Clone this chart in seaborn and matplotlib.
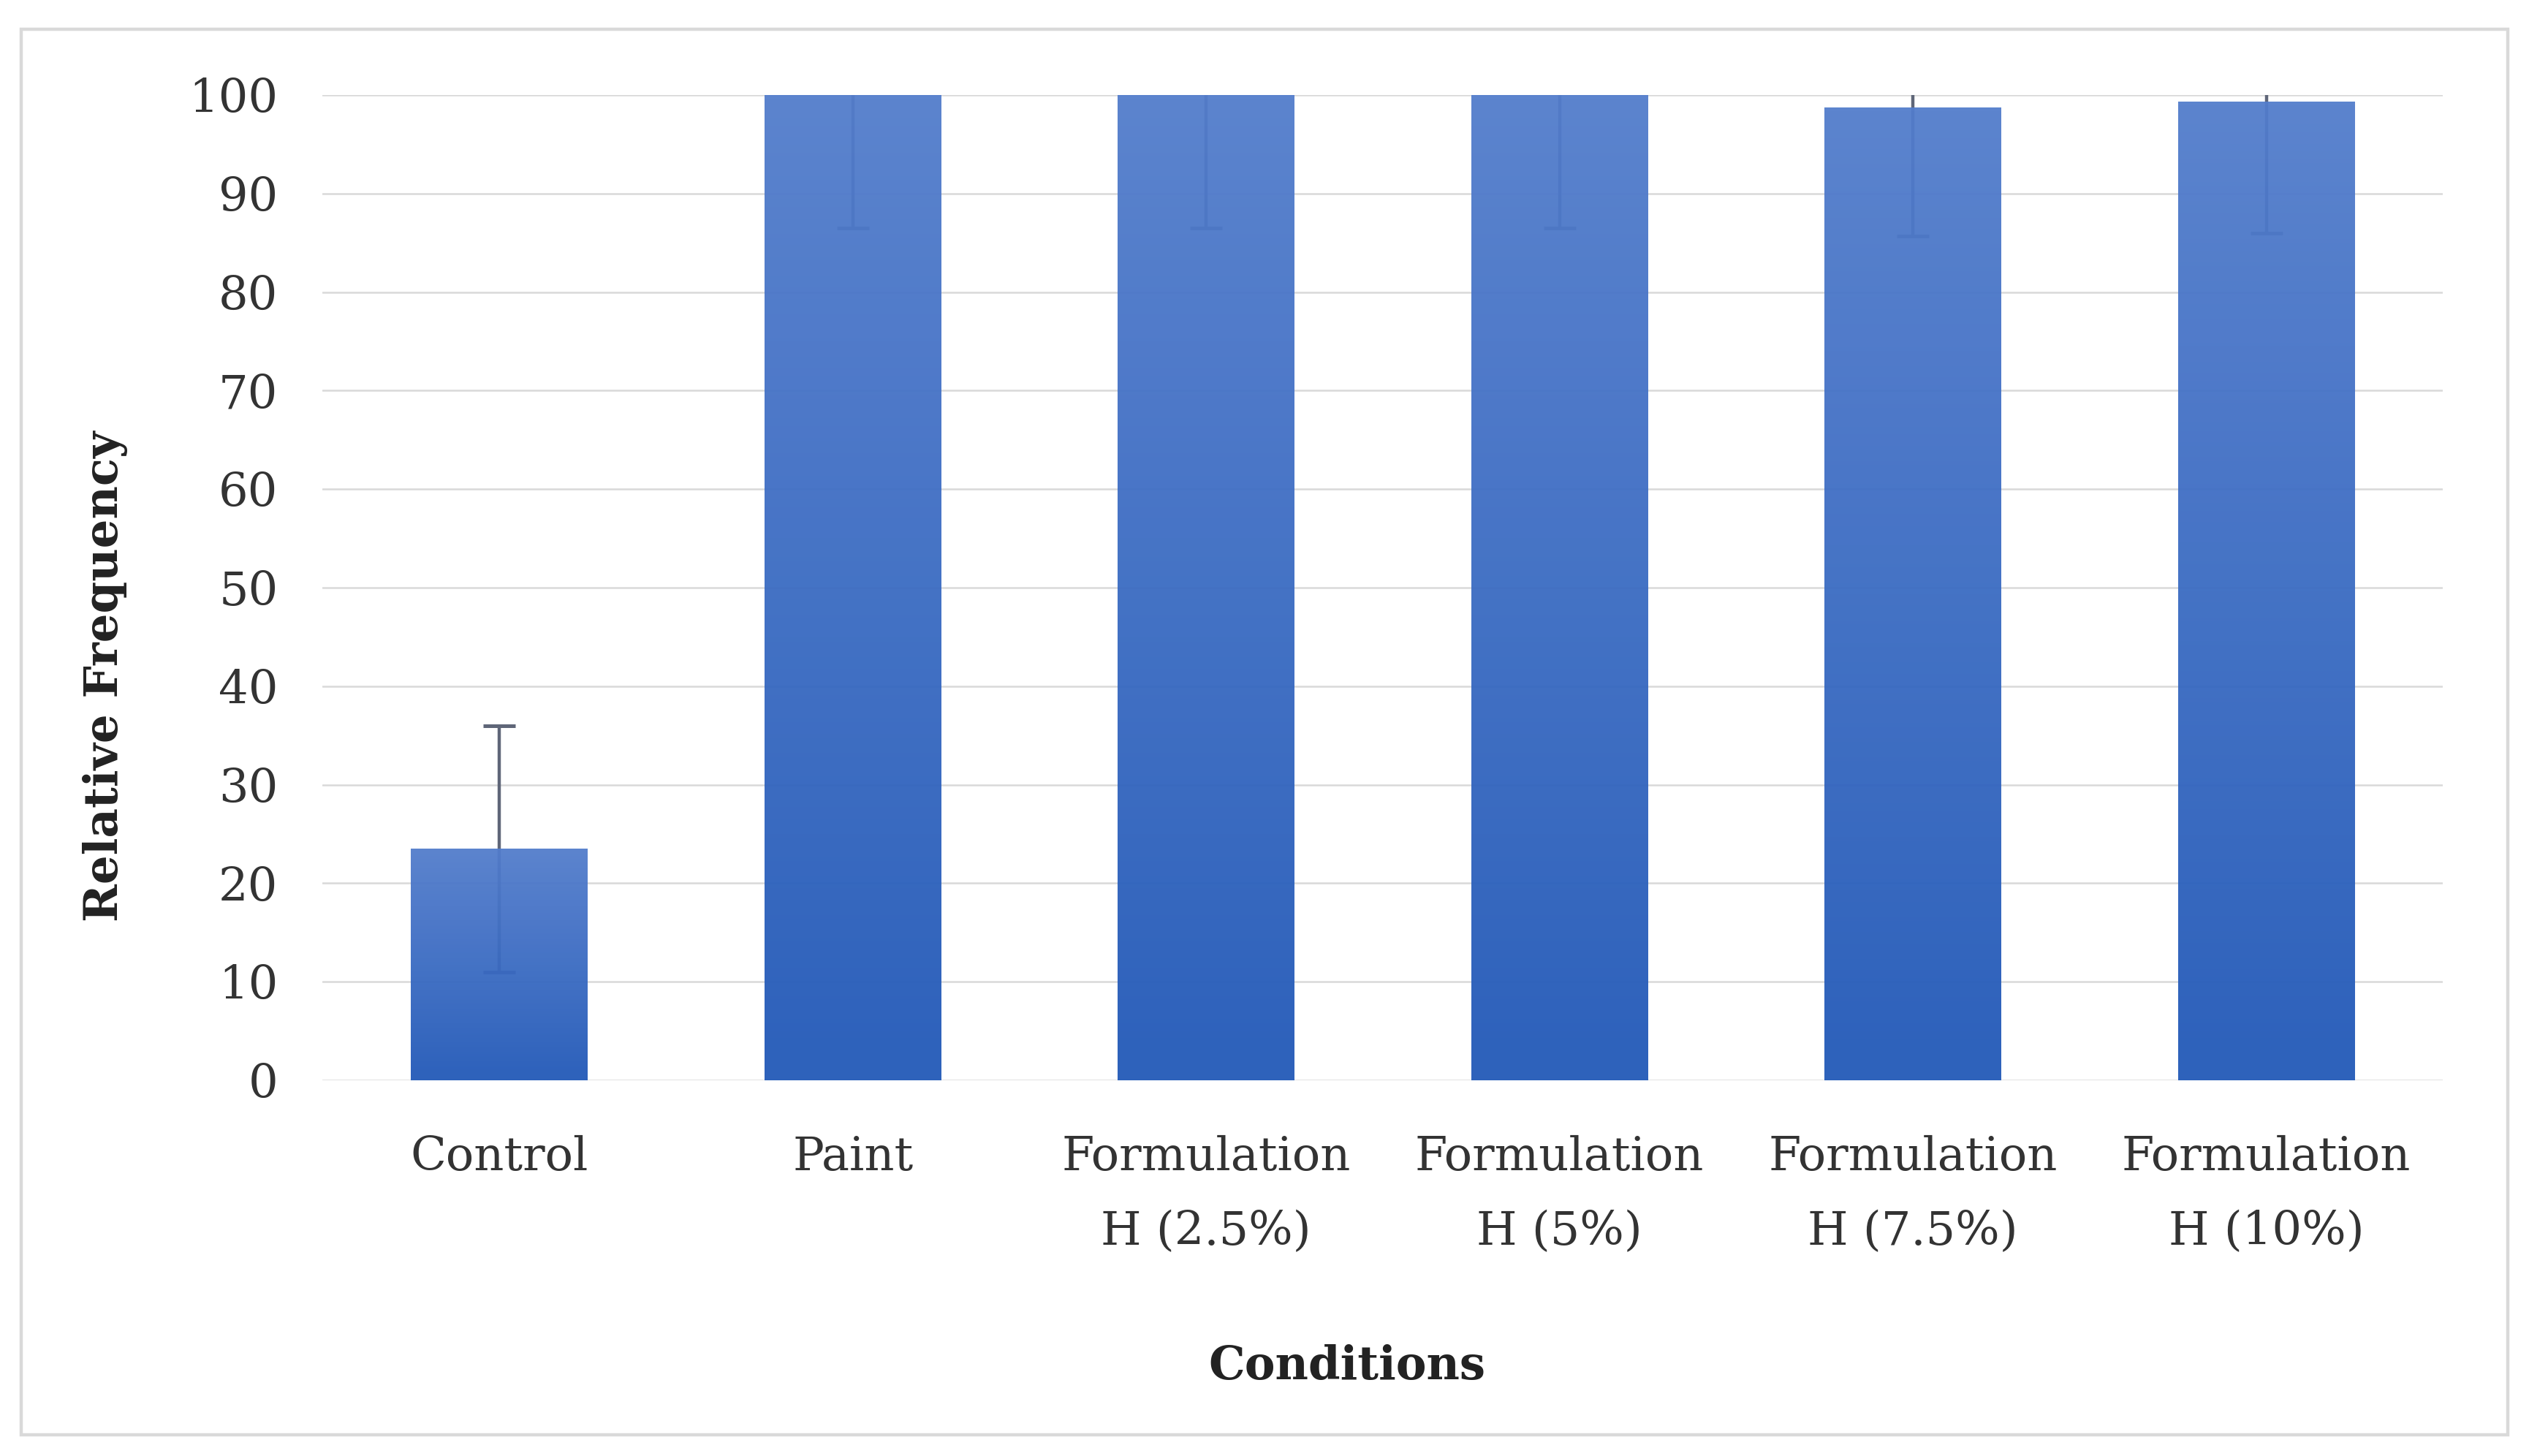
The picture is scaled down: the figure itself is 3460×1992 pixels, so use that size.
import numpy as np
import matplotlib
matplotlib.use('Agg')
import matplotlib.pyplot as plt
from matplotlib.patches import Rectangle
from matplotlib.colors import LinearSegmentedColormap
import seaborn as sns

# Data
categories = ['Control', 'Paint', 'Formulation\nH (2.5%)', 'Formulation\nH (5%)',
              'Formulation\nH (7.5%)', 'Formulation\nH (10%)']
values = [23.5, 100, 100, 100, 98.7, 99.3]
errors = [12.5, 13.5, 13.5, 13.5, 13.0, 13.3]
y_ticks = list(range(0, 101, 10))

sns.set_style('white')
plt.rcParams['font.family'] = ['DejaVu Serif']

fig = plt.figure(figsize=(17.3, 9.96), dpi=200)
ax = fig.add_axes([0.1276, 0.258, 0.8384, 0.6767])

sns.barplot(x=categories, y=values, width=0.5, color='white', ax=ax, zorder=1)

# error bars sit behind the semi-transparent gradient fill
ax.errorbar(x=np.arange(len(categories)), y=values, yerr=errors, fmt='none',
            ecolor='#5f6678', elinewidth=1.6, capsize=8, capthick=1.8, zorder=2)

# vertical gradient fill, per bar
grad_cmap = LinearSegmentedColormap.from_list('bar', ['#2259b8', '#537dcc'])
gradient = np.linspace(0, 1, 256).reshape(-1, 1)
for p in ax.patches:
    p.set_edgecolor('none')
    p.set_facecolor('none')
    x0, w, h = p.get_x(), p.get_width(), p.get_height()
    ax.imshow(gradient, extent=[x0, x0 + w, 0, h], origin='lower', aspect='auto',
              cmap=grad_cmap, alpha=0.95, zorder=3)

ax.set_xlim(-0.5, len(categories) - 0.5)
ax.set_ylim(0, 100)
ax.set_yticks(y_ticks)
ax.yaxis.grid(True, color='#d9d9d9', linewidth=0.9)
ax.set_axisbelow(True)
for s in ax.spines.values():
    s.set_visible(False)
ax.tick_params(axis='both', length=0, labelsize=23, labelcolor='#333333')
ax.tick_params(axis='y', pad=22)
ax.tick_params(axis='x', pad=27)
for lbl in ax.get_xticklabels():
    lbl.set_linespacing(1.85)

ax.set_xlabel('Conditions', fontsize=22.5, fontweight='bold', color='#222222')
ax.set_ylabel('Relative Frequency', fontsize=22.5, fontweight='bold', color='#222222')
ax.xaxis.set_label_coords(0.483, -0.268)
ax.yaxis.set_label_coords(-0.092, 0.41)

# light outer frame
fig.patches.append(Rectangle((0.0083, 0.0144), 0.9834, 0.9656, transform=fig.transFigure,
                             fill=False, edgecolor='#d9d9d9', linewidth=1.6))

fig.savefig('out.png', dpi=200, facecolor='white')
